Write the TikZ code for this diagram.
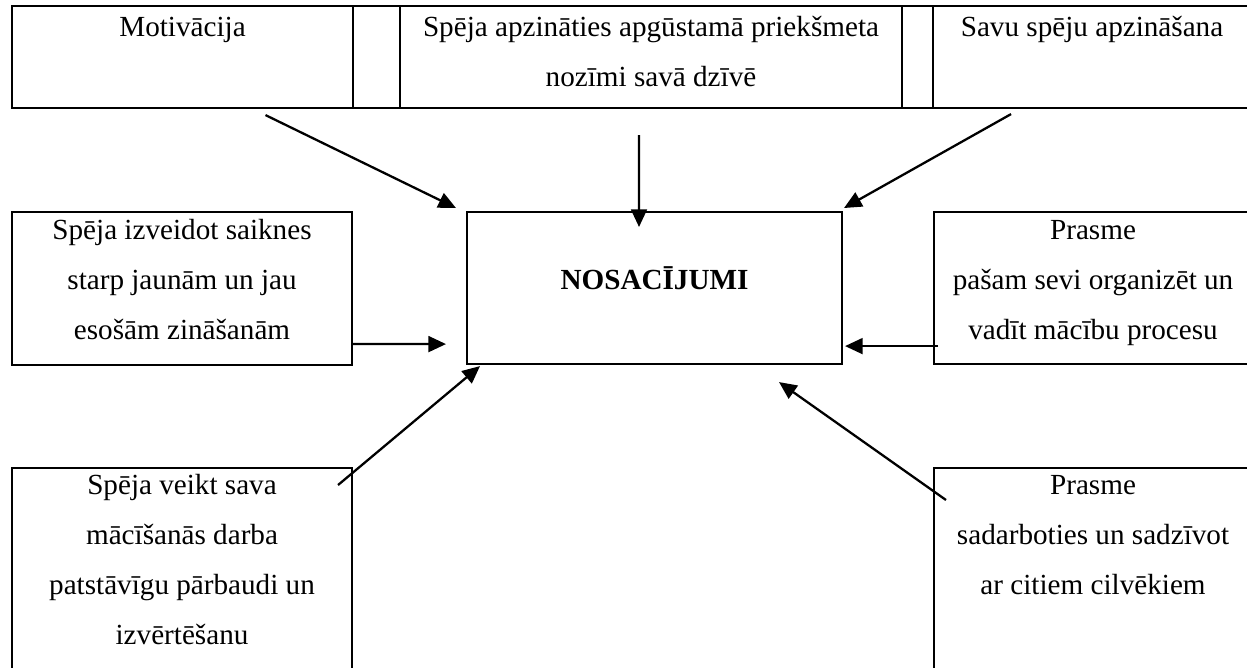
\documentclass[tikz,border=0pt]{standalone}
\usepackage{fontspec}
\setmainfont{Liberation Serif}
\usepackage{tikz}
\usetikzlibrary{arrows.meta,positioning,calc}

\newcommand{\cellbox}[4][15.6pt]{\parbox[t][#3][t]{#2}{\centering\rule{0pt}{#1}#4}}

\begin{document}
\begin{tikzpicture}[x=0.02cm,y=-0.02cm,
    cell/.style={draw, line width=1.2pt, inner sep=0pt, anchor=north west,
      font=\fontsize{16.6}{28.5}\selectfont},
    arr/.style={-{Triangle[length=10pt,width=9pt]}, line width=1.3pt}]
    \useasboundingbox (0,0) rectangle (1247,667);
    \clip (0,0) rectangle (1247,667);

    \node[cell] (motiv) at (11,5) {\cellbox[17.2pt]{6.82cm}{2.04cm}{Motivācija}};
    \node[cell] (gapa) at (352,5) {\cellbox{0.94cm}{2.04cm}{}};
    \node[cell] (znoz) at (399,5) {\cellbox[17.2pt]{10.04cm}{2.04cm}{Spēja apzināties apgūstamā priekšmeta\\nozīmi savā dzīvē}};
    \node[cell] (gapb) at (901,5) {\cellbox{0.62cm}{2.04cm}{}};
    \node[cell] (savu) at (932,5) {\cellbox[17.2pt]{6.36cm}{2.04cm}{Savu spēju apzināšana}};

    \node[cell] (lmid) at (11,211) {\cellbox{6.8cm}{3.06cm}{Spēja izveidot saiknes\\starp jaunām un jau\\esošām zināšanām}};
    \node[cell] (core) at (466,211) {\cellbox[43.8pt]{7.5cm}{3.04cm}{\bfseries NOSACĪJUMI}};
    \node[cell] (rmid) at (933,211) {\cellbox{6.36cm}{3.04cm}{Prasme\\pašam sevi organizēt un\\vadīt mācību procesu}};

    \node[cell] (lbot) at (11,467) {\cellbox[15pt]{6.8cm}{5.2cm}{Spēja veikt sava\\mācīšanās darba\\patstāvīgu pārbaudi un\\izvērtēšanu}};
    \node[cell] (rbot) at (933,467) {\cellbox[15pt]{6.36cm}{5.2cm}{Prasme\\sadarboties un sadzīvot\\ar citiem cilvēkiem}};

    \draw[arr] ([shift={(83,6)}]motiv.south) -- ([shift={(-10,-3)}]core.north west);
    \draw[arr] ([shift={(-12,26)}]znoz.south) -- ([shift={(-15.5,16)}]core.north);
    \draw[arr] ([shift={(-81,5)}]savu.south) -- ([shift={(1,-3)}]core.north east);
    \draw[arr] ([shift={(-1,-22)}]lmid.south east) -- ([shift={(-20,-21)}]core.south west);
    \draw[arr] ([shift={(5,-19)}]rmid.south west) -- ([shift={(2,-19)}]core.south east);
    \draw[arr] ([shift={(-15,18)}]lbot.north east) -- ([shift={(14,1)}]core.south west);
    \draw[arr] ([shift={(13,33)}]rbot.north west) -- ([shift={(124.5,17)}]core.south);
\end{tikzpicture}
\end{document}
